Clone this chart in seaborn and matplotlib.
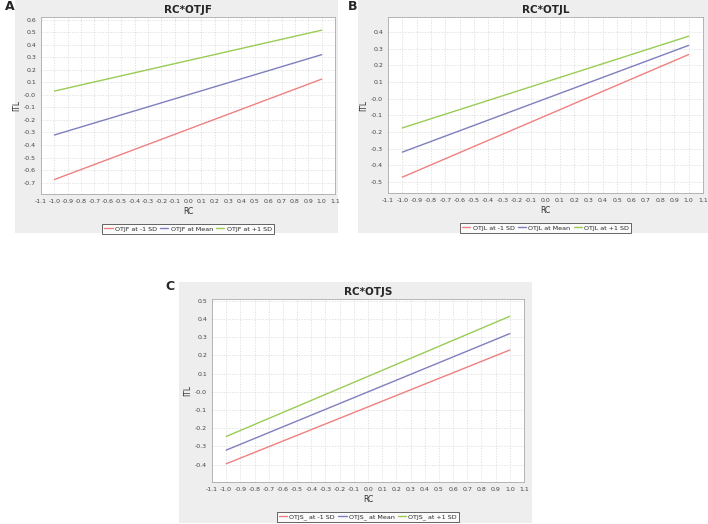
import numpy as np
import pandas as pd
import matplotlib
matplotlib.use("Agg")
import matplotlib.pyplot as plt
from matplotlib.patches import Rectangle
import seaborn as sns

# Simple slopes: ITL at RC = -1 and RC = +1
rc = [-1.0, 1.0]
levels = ["at -1 SD", "at Mean", "at +1 SD"]

otjf_low = [-0.675, 0.125]
otjf_mean = [-0.32, 0.32]
otjf_high = [0.03, 0.515]

otjl_low = [-0.47, 0.265]
otjl_mean = [-0.32, 0.32]
otjl_high = [-0.175, 0.375]

otjs_low = [-0.395, 0.23]
otjs_mean = [-0.32, 0.32]
otjs_high = [-0.245, 0.415]

x_ticks = np.round(np.arange(-1.1, 1.11, 0.1), 1)

sns.set_style("white")
colors = ["#f08080", "#7f7fbf", "#99cc55"]

fig = plt.figure(figsize=(7.08, 5.24), dpi=100)
W, H = 708, 524


def fig_box(x0, y0, x1, y1):
    # pixel box (top-left origin) -> figure fraction
    return [x0 / W, 1 - y1 / H, (x1 - x0) / W, (y1 - y0) / H]


def panel(letter, title, prefix, series, bg, plot, ylim, yticks, letter_xy):
    b = fig_box(*bg)
    fig.patches.append(Rectangle((b[0], b[1]), b[2], b[3], transform=fig.transFigure,
                                 facecolor="#eeeeee", edgecolor="none", zorder=-10))
    fig.text(letter_xy[0] / W, 1 - letter_xy[1] / H, letter, fontsize=9, fontweight="bold",
             ha="left", va="center")
    ax = fig.add_axes(fig_box(*plot))
    ax.set_zorder(1)
    rows = []
    for lev, vals in zip(levels, series):
        for x, y in zip(rc, vals):
            rows.append({"RC": x, "ITL": y, "grp": f"{prefix} {lev}"})
    df = pd.DataFrame(rows)
    sns.lineplot(data=df, x="RC", y="ITL", hue="grp", palette=colors, linewidth=1.0, ax=ax)
    ax.set_facecolor("white")
    ax.set_xlim(-1.1, 1.1)
    ax.set_ylim(*ylim)
    ax.set_xticks(x_ticks)
    ax.set_xticklabels([f"{t:.1f}" for t in x_ticks])
    ax.set_yticks(yticks)
    ax.set_yticklabels([f"{t:.1f}" for t in yticks])
    ax.tick_params(labelsize=4.5, length=2, width=0.5, pad=1.5, colors="#444444")
    ax.grid(True, color="#d8d8d8", linestyle=(0, (2, 2)), linewidth=0.5)
    for s in ax.spines.values():
        s.set_color("#aaaaaa")
        s.set_linewidth(0.6)
    ax.set_xlabel("RC", fontsize=5.5, labelpad=2, color="#333333")
    ax.set_ylabel("ITL", fontsize=5.5, labelpad=2, color="#333333")
    ax.set_title(title, fontsize=7.5, fontweight="bold", pad=3)
    ph = plot[3] - plot[1]
    leg = ax.legend(loc="upper center", bbox_to_anchor=(0.5, -27 / ph), ncol=3, fontsize=4.6,
                    frameon=True, fancybox=False, edgecolor="#222222", handlelength=1.3,
                    handletextpad=0.35, columnspacing=0.5, borderpad=0.3)
    leg.get_frame().set_linewidth(0.6)
    return ax


panel("A", "RC*OTJF", "OTJF", [otjf_low, otjf_mean, otjf_high],
      (15, 0, 338, 233), (41, 17, 335, 194), (-0.79, 0.62),
      np.round(np.arange(-0.7, 0.61, 0.1), 1), (5, 7))
panel("B", "RC*OTJL", "OTJL", [otjl_low, otjl_mean, otjl_high],
      (358, 0, 708, 233), (388, 17, 703, 193), (-0.565, 0.49),
      np.round(np.arange(-0.5, 0.41, 0.1), 1), (348, 7))
panel("C", "RC*OTJS", "OTJS_", [otjs_low, otjs_mean, otjs_high],
      (179, 282, 532, 523), (212, 299, 524, 482), (-0.495, 0.51),
      np.round(np.arange(-0.4, 0.51, 0.1), 1), (165, 287))

fig.savefig("out.png", dpi=100, facecolor="white")
